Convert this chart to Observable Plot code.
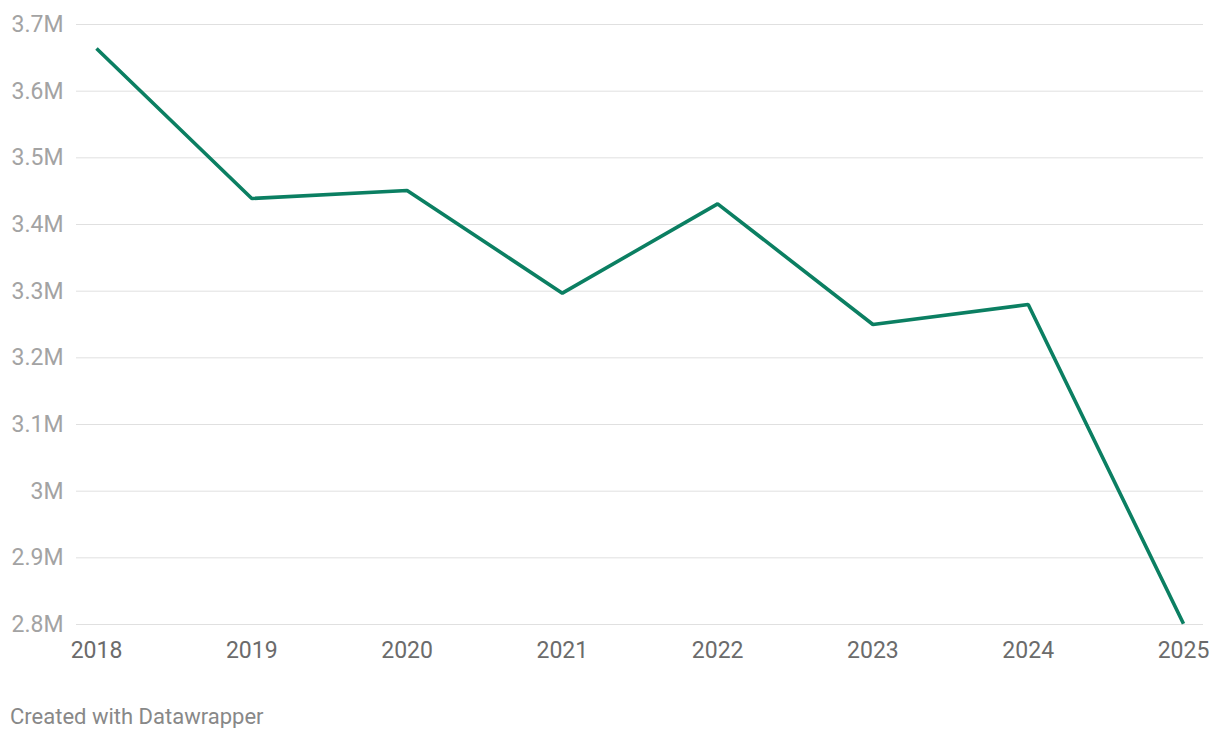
<!DOCTYPE html>
<html>
<head>
<meta charset="utf-8">
<script src="https://cdn.jsdelivr.net/npm/d3@7"></script>
<script src="https://cdn.jsdelivr.net/npm/@observablehq/plot@0.6"></script>
<style>
  html, body { margin: 0; padding: 0; background: #fff; }
  #chart svg { display: block; }
  .credit { font-family: Roboto, sans-serif; font-size: 22px; color: #888; margin: 26px 0 0 10px; line-height: 1; }
</style>
</head>
<body>
<div id="chart"></div>
<div class="credit">Created with Datawrapper</div>
<script>
const years = [2018, 2019, 2020, 2021, 2022, 2023, 2024, 2025];
const values = [3664000, 3439000, 3451000, 3297000, 3431000, 3250000, 3280000, 2801000];
const yTicks = [2800000, 2900000, 3000000, 3100000, 3200000, 3300000, 3400000, 3500000, 3600000, 3700000];

const data = years.map((year, i) => ({year, value: values[i]}));
const fmtM = d => `${+(d / 1e6).toFixed(1)}M`;

const chart = Plot.plot({
  width: 1220,
  height: 680,
  marginTop: 24,
  marginBottom: 56,
  marginLeft: 96,
  marginRight: 37,
  style: { fontFamily: "Roboto, sans-serif", background: "#fff" },
  x: { domain: [years[0], years[years.length - 1]] },
  y: { domain: [yTicks[0], yTicks[yTicks.length - 1]] },
  marks: [
    Plot.ruleY(yTicks, { stroke: "#e0e0e0", strokeWidth: 1, insetLeft: -20, insetRight: -20 }),
    Plot.axisY({ ticks: yTicks, tickFormat: fmtM, tickSize: 0, tickPadding: 33, fontSize: 23, fill: "#a3a3a3", label: null }),
    Plot.axisX({ ticks: years, tickFormat: d => String(d), tickSize: 0, tickPadding: 17, fontSize: 23, fill: "#6b6b6b", label: null }),
    Plot.line(data, { x: "year", y: "value", stroke: "#0b7f62", strokeWidth: 3.6, strokeLinejoin: "miter", strokeLinecap: "butt" })
  ]
});
document.getElementById("chart").appendChild(chart);
</script>
</body>
</html>
